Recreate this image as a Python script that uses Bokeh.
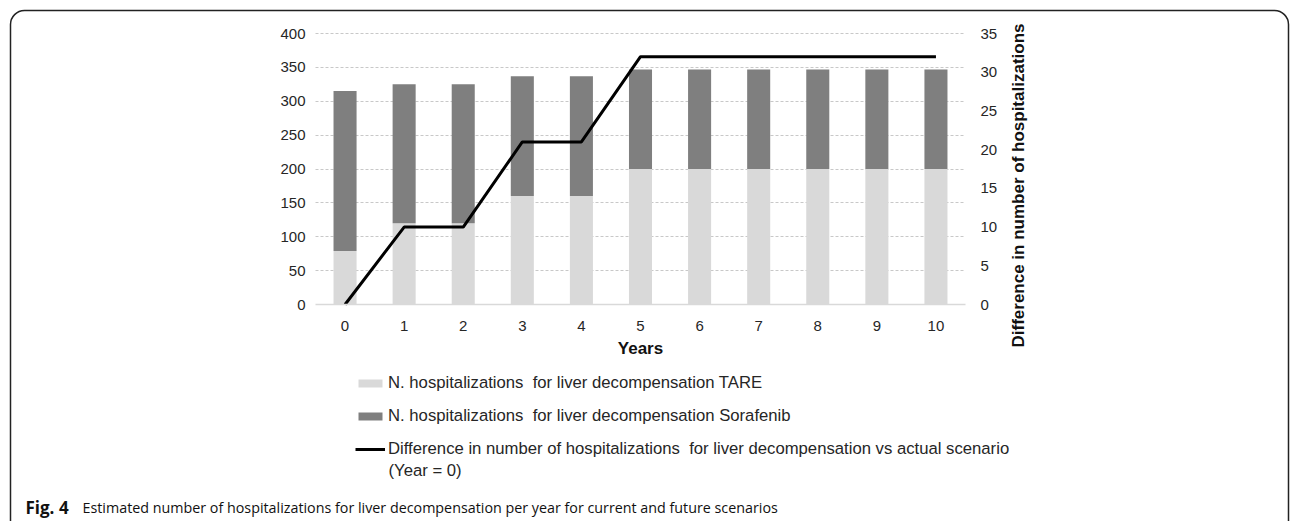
import math
from bokeh.plotting import figure
from bokeh.models import (ColumnDataSource, Range1d, LinearAxis, Legend, LegendItem,
                          FixedTicker, Label, BoxAnnotation)
from bokeh.embed import file_html
from bokeh.resources import INLINE

# ---- data ----
years = [0, 1, 2, 3, 4, 5, 6, 7, 8, 9, 10]
tare = [79, 120, 120, 160, 160, 200, 200, 200, 200, 200, 200]
sorafenib = [236, 205, 205, 177, 177, 147, 147, 147, 147, 147, 147]
difference = [0, 10, 10, 21, 21, 32, 32, 32, 32, 32, 32]
left_ticks = [0, 50, 100, 150, 200, 250, 300, 350, 400]
right_ticks = [0, 5, 10, 15, 20, 25, 30, 35]

legend_labels = [
    "N. hospitalizations  for liver decompensation TARE",
    "N. hospitalizations  for liver decompensation Sorafenib",
    "Difference in number of hospitalizations  for liver decompensation vs actual scenario",
]
legend_extra = "(Year = 0)"
caption_bold = "Fig. 4"
caption_text = "Estimated number of hospitalizations for liver decompensation per year for current and future scenarios"
right_title = "Difference in number of hospitalizations"
x_title = "Years"

LIGHT = "#d9d9d9"
DARK = "#7f7f7f"
FONT = "Liberation Sans"
TXT = "#262626"

# ---- canvas / plot-area geometry (pixels) ----
W, H = 1290, 521
AREA_L, AREA_R, AREA_T, AREA_B = 315, 965, 33, 304   # chart area inside the canvas
X0, X1 = -0.5, 10.5
Y0, Y1 = 0, 400
R0, R1 = 0, 35

per_x = (X1 - X0) / (AREA_R - AREA_L)
xr = (X0 - AREA_L * per_x, X1 + (W - AREA_R) * per_x)
per_y = (Y1 - Y0) / (AREA_B - AREA_T)
yr = (Y0 - (H - AREA_B) * per_y, Y1 + AREA_T * per_y)
per_r = (R1 - R0) / (AREA_B - AREA_T)
rr = (R0 - (H - AREA_B) * per_r, R1 + AREA_T * per_r)

src = ColumnDataSource(dict(years=years, tare=tare, sorafenib=sorafenib, difference=difference))

p = figure(width=W, height=H, output_backend="svg", toolbar_location=None,
           x_range=Range1d(*xr), y_range=Range1d(*yr),
           min_border_left=0, min_border_right=0, min_border_top=0, min_border_bottom=0)
p.outline_line_color = None
p.extra_y_ranges = {"right": Range1d(*rr)}

bars = p.vbar_stack(["tare", "sorafenib"], x="years", width=0.39, source=src,
                    color=[LIGHT, DARK], line_color=None)
ln = p.line("years", "difference", source=src, y_range_name="right",
            line_color="black", line_width=3)

# x axis drawn at y = 0
xa = p.xaxis[0]
xa.fixed_location = 0
xa.bounds = (X0, X1)
xa.ticker = FixedTicker(ticks=years)
xa.axis_line_color = LIGHT
xa.axis_line_width = 1.5
xa.major_tick_line_color = None
xa.minor_tick_line_color = None
xa.major_tick_out = 0
xa.major_tick_in = 0
xa.major_label_text_font = FONT
xa.major_label_text_font_size = "15px"
xa.major_label_text_color = TXT
xa.major_label_standoff = 16
xa.axis_label = x_title
xa.axis_label_text_font = FONT
xa.axis_label_text_font_style = "bold"
xa.axis_label_text_font_size = "17px"
xa.axis_label_text_color = "#111"
xa.axis_label_standoff = 5

ya = p.yaxis[0]
ya.fixed_location = X0
ya.bounds = (Y0, Y1)
ya.ticker = FixedTicker(ticks=left_ticks)
ya.axis_line_color = None
ya.major_tick_line_color = None
ya.minor_tick_line_color = None
ya.major_tick_out = 0
ya.major_tick_in = 0
ya.major_label_text_font = FONT
ya.major_label_text_font_size = "15px"
ya.major_label_text_color = TXT
ya.major_label_standoff = 10

ra = LinearAxis(y_range_name="right", ticker=FixedTicker(ticks=right_ticks))
ra.fixed_location = X1
ra.bounds = (R0, R1)
ra.axis_line_color = None
ra.major_tick_line_color = None
ra.minor_tick_line_color = None
ra.major_tick_out = 0
ra.major_tick_in = 0
ra.major_label_text_font = FONT
ra.major_label_text_font_size = "15px"
ra.major_label_text_color = TXT
ra.major_label_standoff = 15
p.add_layout(ra, "right")

p.xgrid.grid_line_color = None
p.ygrid.ticker = FixedTicker(ticks=left_ticks[1:])
p.ygrid.cross_bounds = (X0, X1)
p.ygrid.grid_line_color = "#c8c8c8"
p.ygrid.grid_line_dash = "3 2"
p.ygrid.grid_line_width = 1

# right axis title
p.add_layout(Label(x=1018, y=H - 185, x_units="screen", y_units="screen", text=right_title,
                   angle=math.pi / 2, text_align="center", text_baseline="middle",
                   text_font=FONT, text_font_size="17px", text_font_style="bold",
                   text_color="#111"))

# legend below the chart
legend = Legend(items=[LegendItem(label=legend_labels[0], renderers=[bars[0]]),
                       LegendItem(label=legend_labels[1], renderers=[bars[1]]),
                       LegendItem(label=legend_labels[2], renderers=[ln])],
                location=(355, H - 459), orientation="vertical",
                padding=0, margin=0, spacing=13, label_height=20,
                glyph_width=30, glyph_height=10, label_standoff=3,
                label_text_font=FONT, label_text_font_size="16.7px", label_text_color=TXT,
                border_line_color=None, background_fill_alpha=0)
p.add_layout(legend, "center")
p.add_layout(Label(x=388, y=H - 470, x_units="screen", y_units="screen", text=legend_extra,
                   text_font=FONT, text_font_size="16.7px", text_color=TXT,
                   text_baseline="middle"))

# caption
p.add_layout(Label(x=25, y=H - 507, x_units="screen", y_units="screen", text=caption_bold,
                   text_font="Open Sans", text_font_style="bold", text_font_size="17px",
                   text_color="#111", text_baseline="alphabetic"))
p.add_layout(Label(x=82, y=H - 507, x_units="screen", y_units="screen", text=caption_text,
                   text_font="Open Sans", text_font_size="14.3px",
                   text_color="#111", text_baseline="alphabetic"))

# rounded frame around the figure
p.add_layout(BoxAnnotation(left=10, right=1288, top=H - 10, bottom=-30,
                           left_units="screen", right_units="screen",
                           top_units="screen", bottom_units="screen",
                           fill_alpha=0, line_color="#222", line_alpha=1.0,
                           line_width=1.5, border_radius=14))

open("out.html", "w").write(file_html(p, INLINE))
